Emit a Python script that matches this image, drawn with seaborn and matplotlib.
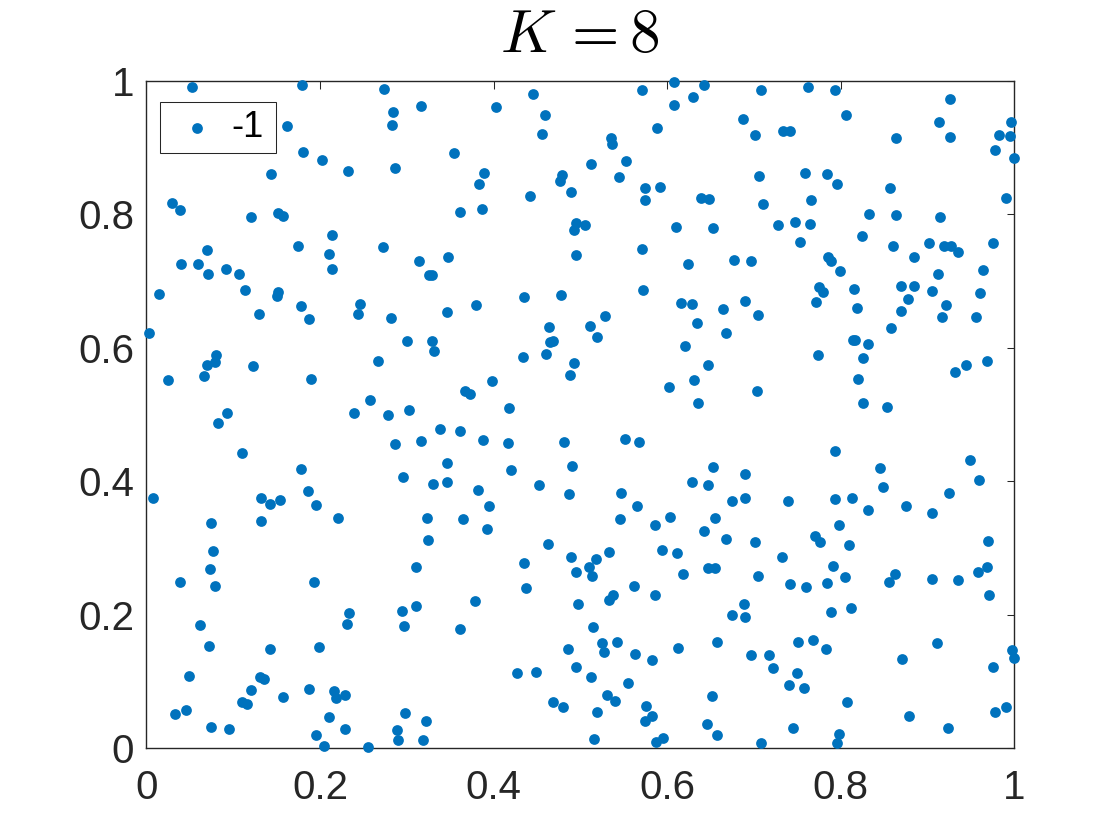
import matplotlib
matplotlib.use("Agg")
import matplotlib.pyplot as plt
import seaborn as sns

# Point positions
x_vals = [
    .0524, .0501, .1792, .2733, .2844, .2829, .3163, .1619, .18, .2022, .2322, .2864, .1439, .0294, .0382, .1204,
    .1519, .1569, .2141, .175, .2103, .2141, .2721, .3144, .3255, .0693, .0394, .0593, .0705, .0912, .107,
    .014, .1131, .1515, .1508, .178, .13, .1876, .2456, .2437, .2821, .3006, .0033, .0797, .0793, .0701, .0659,
    .1223, .0252, .1896, .2672, .2575, .2391, .2779, .3029, .2864, .3159, .0928, .0824, .11, .178, .296, .0071,
    .1319, .1423, .1542, .1861, .1953,
    .0743, .1323, .2211, .3228, .3248, .0762, .0732, .0386, .0789, .1934, .3106, .3102, .2948, .2971, .2333, .231,
    .062, .0716, .1423, .1988, .049, .1308, .1358, .12, .1097, .1154, .1569, .1873, .2164, .2287, .218, .0451,
    .0328, .0747, .0951, .2103, .2287, .1957, .2045, .2552, .2979, .3221, .2883, .2894, .3186,
    .4027, .445, .4588, .4554, .3543, .3889, .3835, .3609, .3866, .4419, .4784, .4765, .4888, .5118, .5353, .5364,
    .571, .6075, .6428, .6301, .6082, .5883, .5525, .5449, .5748, .5913, .5748, .6386, .6478, .4949, .5053,
    .7077, .7627, .793, .8057, .9259, .687, .9136, .9966, .7331, .7419, .7008, .8633, .9259, .9824, .9954, .9774,
    .9997, .7058, .7592, .7838, .7953, .8571, .71, .7661, .9904, .8322, .8641, .914, .7281, .7469, .7642, .8249,
    .7527, .8602, .9021, .9194, .927, .9355, .9758, .884, .7857, .7888, .6766, .697, .7995, .9125, .9636,
    .4926, .6105, .6524, .3474, .3286, .4949, .5706, .6244, .5717, .4346, .4773, .3801, .3459, .6159, .629, .6647,
    .5283, .5114, .4634, .5187, .634, .6678, .3286, .3313, .4646, .4688, .4607, .4339, .4922, .488, .6201, .6466,
    .6313, .6021, .6355, .3985, .3666, .3732, .4173, .3378, .3616, .3878, .417, .4815, .5514, .5671,
    .3459, .4196, .4907, .6524, .3305, .3467, .3824, .4523, .4873, .5468, .629, .6466, .3951, .5648, .3643, .3928,
    .5452, .6029, .586, .6547, .6428, .6678, .4627, .5333, .4354, .4895, .518, .5936, .6109, .5103, .4945, .5137,
    .647, .6547, .6178, .4377, .5614, .538, .5333, .5856, .4972, .3785, .3609, .5141, .5253, .5422, .4861, .5272,
    .5633, .5829, .6121, .657, .4953, .4273, .4484, .5122,
    .5545, .4688, .4803, .5303, .5395, .5187, .6516, .5756, .5821, .5748, .6455, .6578, .5153, .5952, .5867,
    .7749, .78, .8153, .8694, .8848, .9055, .9605, .6893, .705, .7719, .8191, .8775, .8691, .9217, .9167, .9555,
    .8575, .8137, .8168, .831, .7742, .826, .9689, .9447, .932, .8203, .7039, .826, .8529, .7938, .9493, .8456,
    .6893, .9597, .8487, .9251, .6743, .6893, .7388, .7938, .8134, .8748, .8318, .9052,
    .7984, .7012, .7703, .7761, .8091, .9701, .7319, .7911, .705, .8045, .7415, .7604, .7838, .8629, .856, .9055,
    .9355, .9585, .9685, .9712, .6889, .6901, .6743, .7892, .8122, .7511, .768, .7826, .9113, .6962, .7173, .7216,
    .7496, .7404, .7573, .8706, .997, .9993, .9755, .8076, .8783, .9901, .9782, .7454, .924, .7976, .7953, .7085,
]
y_vals = [
    .9905, .961, .994, .988, .954, .9335, .962, .9325, .894, .8816, .8656, .8696, .86, .8166, .8061, .7956,
    .8026, .7981, .7686, .7526, .7401, .7181, .7506, .7296, .7091, .7461, .7256, .7261, .7111, .7181, .7111,
    .6807, .6872, .6837, .6782, .6632, .6507, .6427, .6652, .6502, .6452, .6107, .6227, .5892, .5782, .5747, .5572,
    .5732, .5517, .5532, .5807, .5222, .5022, .4988, .5067, .4558, .4608, .5027, .4878, .4428, .4188, .4058, .3743,
    .3743, .3658, .3713, .3858, .3643,
    .3373, .3403, .3448, .3448, .3113, .2954, .2684, .2489, .2434, .2494, .2719, .2129, .2049, .1834, .2024, .1864,
    .1839, .1529, .1489, .1509, .1074, .1069, .1029, .087, .0695, .066, .076, .088, .086, .08, .0745, .0575,
    .0515, .031, .0285, .046, .0285, .0195, .0035, .001, .0525, .04, .0275, .012, .0125,
    .9615, .981, .949, .92, .8926, .8626, .8451, .8041, .8076, .8276, .8596, .8501, .8336, .8751, .9145, .9055,
    .987, .999, .994, .9765, .964, .93, .88, .8556, .8401, .8406, .8211, .8251, .8231, .7866, .7841,
    .9865, .9905, .9865, .949, .9735, .9435, .939, .938, .9255, .9245, .9195, .915, .9155, .9185, .918, .896,
    .8846, .8581, .8616, .8606, .8451, .8391, .8156, .8216, .8246, .8006, .7986, .7961, .7841, .7886, .7851, .7681,
    .7591, .7526, .7576, .7526, .7526, .7431, .7571, .7356, .7356, .7301, .7316, .7296, .7156, .7101, .7161,
    .7766, .7811, .7796, .7356, .7096, .7391, .7476, .7256, .6867, .6767, .6797, .6637, .6537, .6667, .6657, .6587,
    .6472, .6327, .6307, .6167, .6367, .6227, .6102, .5957, .6092, .6097, .5902, .5862, .5772, .5587, .6022, .5747,
    .5522, .5417, .5167, .5507, .5347, .5307, .5097, .4783, .4758, .4613, .4573, .4583, .4633, .4593,
    .4278, .4168, .4223, .4213, .3953, .3988, .3863, .3943, .3803, .3823, .3993, .3943, .3623, .3623, .3438, .3288,
    .3428, .3468, .3343, .3453, .3253, .3128, .3063, .2944, .2769, .2859, .2839, .2974, .2929, .2709, .2639, .2579,
    .2694, .2694, .2614, .2394, .2429, .2294, .2224, .2294, .2154, .2204, .1784, .1814, .1574, .1594, .1479, .1434,
    .1409, .1324, .1499, .1594, .1209, .1129, .1134, .1064,
    .097, .0695, .062, .079, .07, .054, .078, .0625, .0475, .04, .036, .02, .0135, .0145, .0085,
    .6917, .6842, .6877, .6927, .6927, .6852, .6827, .6707, .6497, .6682, .6592, .6727, .6547, .6647, .6457, .6457,
    .6292, .6122, .6122, .6057, .5892, .5842, .5802, .5737, .5637, .5537, .5347, .5172, .5112, .4458, .4323, .4203,
    .4108, .4018, .3918, .3818, .3708, .3753, .3698, .3733, .3743, .3628, .3563, .3523,
    .3348, .3083, .3178, .3093, .3048, .3098, .2859, .2734, .2579, .2564, .2454, .2409, .2469, .2609, .2484, .2529,
    .2514, .2634, .2719, .2289, .2159, .1964, .1994, .2039, .2104, .1584, .1624, .1479, .1579, .1389, .1394, .1194,
    .1129, .095, .0895, .1329, .1474, .1349, .1219, .069, .048, .0615, .0545, .0295, .0295, .0215, .007, .007,
]
tick_vals = [0, 0.2, 0.4, 0.6, 0.8, 1]
tick_labels = ["0", "0.2", "0.4", "0.6", "0.8", "1"]

sns.set_style("white")
plt.rcParams["font.family"] = ["Liberation Sans", "DejaVu Sans"]
plt.rcParams["mathtext.fontset"] = "cm"

fig = plt.figure(figsize=(11.2, 8.4), dpi=100)
ax = fig.add_axes([0.1308, 0.1095, 0.7748, 0.794])

sns.scatterplot(x=x_vals, y=y_vals, ax=ax, color="#0072BD", s=60, linewidth=0,
                label="-1", clip_on=False, zorder=3)

ax.set_xlim(0, 1)
ax.set_ylim(0, 1)
ax.set_xticks(tick_vals, tick_labels)
ax.set_yticks(tick_vals, tick_labels)
ax.tick_params(direction="in", length=5.4, width=0.75, color="#262626", labelcolor="#262626",
               labelsize=29, top=True, right=True)
ax.tick_params(axis="x", pad=15)
ax.tick_params(axis="y", pad=9)
for side in ax.spines.values():
    side.set_color("#262626")
    side.set_linewidth(1.0)

ax.set_title(r"$K\,=8$", fontsize=44, color="black", pad=21)

leg = ax.legend(loc="upper left", bbox_to_anchor=(0.015, 0.9685), borderaxespad=0, fontsize=26,
                fancybox=False, framealpha=1, edgecolor="#262626", handletextpad=0.25,
                borderpad=0.22, handlelength=1.64, labelcolor="black")
leg.get_frame().set_linewidth(0.75)
leg.get_texts()[0].set_position((-4, 0))

fig.savefig("out.png", dpi=100)
